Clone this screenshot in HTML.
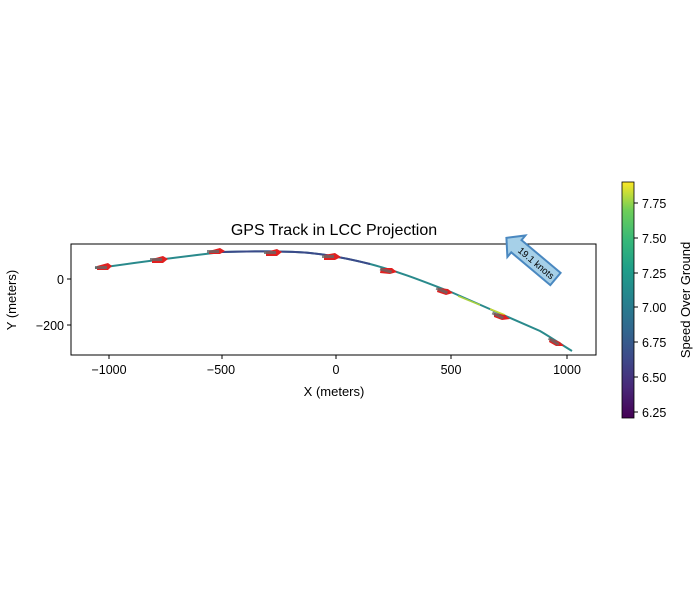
<!DOCTYPE html>
<html><head><style>body{margin:0;background:#fff}</style></head><body>
<svg width="700" height="600" xmlns="http://www.w3.org/2000/svg" font-family="Liberation Sans, DejaVu Sans, sans-serif">
<defs>
<linearGradient id="vir" x1="0" y1="1" x2="0" y2="0">
<stop offset="0" stop-color="#440154"/><stop offset="0.13" stop-color="#482878"/><stop offset="0.25" stop-color="#3e4989"/><stop offset="0.38" stop-color="#31688e"/><stop offset="0.5" stop-color="#26828e"/><stop offset="0.63" stop-color="#1f9e89"/><stop offset="0.75" stop-color="#35b779"/><stop offset="0.88" stop-color="#6ece58"/><stop offset="1" stop-color="#fde725"/>
</linearGradient>
</defs>
<text x="334" y="235" font-size="16" text-anchor="middle">GPS Track in LCC Projection</text>
<path fill="none" stroke="#2a8a8c" stroke-width="2" d="M95,268 L109,266.5 C140,262 180,257 222,252 C250,251 290,251 310,253 C330,255 350,259 370,264 C400,272 420,280 451,292 C480,305 510,318 540,331 C552,338 562,345 572,351"/>
<path fill="none" stroke="#3b4a8a" stroke-width="2" d="M222,252 C250,251 290,251 310,253 C330,255 350,259 370,264"/>
<polyline fill="none" stroke="#a8d040" stroke-width="1.5" points="458,296 480,305"/>
<polyline fill="none" stroke="#c8d830" stroke-width="1.5" points="490,309 505,315"/>
<g fill="#e02020" stroke="none">
<polygon points="97,266 108,263 112,266 108,270 97,270"/>
<polygon points="152,259 163,256 168,259 163,263 152,263"/>
<polygon points="209,251 220,248 225,251 220,254 209,254"/>
<polygon points="266,252 277,249 282,252 277,256 266,256"/>
<polygon points="324,255 335,253 341,257 335,260 324,260"/>
<polygon points="381,268 392,268 397,272 390,274 380,273"/>
<polygon points="438,288 448,289 453,293 446,295 437,292"/>
<polygon points="494,313 505,315 510,319 502,320 494,317"/>
<polygon points="550,338 560,342 564,346 556,346 549,342"/>
</g>
<g fill="#666" opacity="0.8">
<rect x="95" y="266" width="12" height="3"/><rect x="150" y="258" width="12" height="3"/><rect x="207" y="250" width="12" height="3"/><rect x="264" y="251" width="12" height="3"/><rect x="322" y="255" width="12" height="3"/>
<rect x="380" y="269" width="12" height="3" transform="rotate(15 386 270)"/><rect x="436" y="289" width="12" height="3" transform="rotate(22 442 290)"/><rect x="492" y="314" width="12" height="3" transform="rotate(25 498 315)"/><rect x="548" y="340" width="12" height="3" transform="rotate(32 554 341)"/>
</g>
<rect x="71" y="244" width="525" height="111" fill="none" stroke="#000" stroke-width="1"/>
<g stroke="#000">
<line x1="109" y1="355" x2="109" y2="359"/><line x1="222" y1="355" x2="222" y2="359"/><line x1="336" y1="355" x2="336" y2="359"/><line x1="451" y1="355" x2="451" y2="359"/><line x1="567" y1="355" x2="567" y2="359"/>
<line x1="67" y1="279" x2="71" y2="279"/><line x1="67" y1="325" x2="71" y2="325"/>
</g>
<g font-size="12.5" text-anchor="middle">
<text x="109" y="374">−1000</text><text x="221" y="374">−500</text><text x="336" y="374">0</text><text x="451" y="374">500</text><text x="567" y="374">1000</text>
<text x="334" y="396" font-size="13">X (meters)</text>
</g>
<g font-size="12.5" text-anchor="end">
<text x="64" y="284">0</text><text x="64" y="330">−200</text>
</g>
<text transform="translate(16 300) rotate(-90)" font-size="13" text-anchor="middle">Y (meters)</text>
<g transform="translate(534 261) rotate(40)">
<polygon points="-36,0 -23,-14 -23,-8 28,-8 28,8 -23,8 -23,14" fill="#a6d0e8" stroke="#4a88c0" stroke-width="2"/>
<text x="3" y="3.5" font-size="9.5" text-anchor="middle">19.1 knots</text>
</g>
<rect x="622" y="182" width="12" height="236" fill="url(#vir)" stroke="#000" stroke-width="0.8"/>
<g stroke="#000">
<line x1="634" y1="203" x2="638" y2="203"/><line x1="634" y1="238" x2="638" y2="238"/><line x1="634" y1="273" x2="638" y2="273"/><line x1="634" y1="307" x2="638" y2="307"/><line x1="634" y1="342" x2="638" y2="342"/><line x1="634" y1="377" x2="638" y2="377"/><line x1="634" y1="412" x2="638" y2="412"/>
</g>
<g font-size="12.5">
<text x="642" y="208">7.75</text><text x="642" y="243">7.50</text><text x="642" y="278">7.25</text><text x="642" y="312">7.00</text><text x="642" y="347">6.75</text><text x="642" y="382">6.50</text><text x="642" y="417">6.25</text>
</g>
<text transform="translate(690 300) rotate(-90)" font-size="13" text-anchor="middle">Speed Over Ground</text>
</svg>
</body></html>
